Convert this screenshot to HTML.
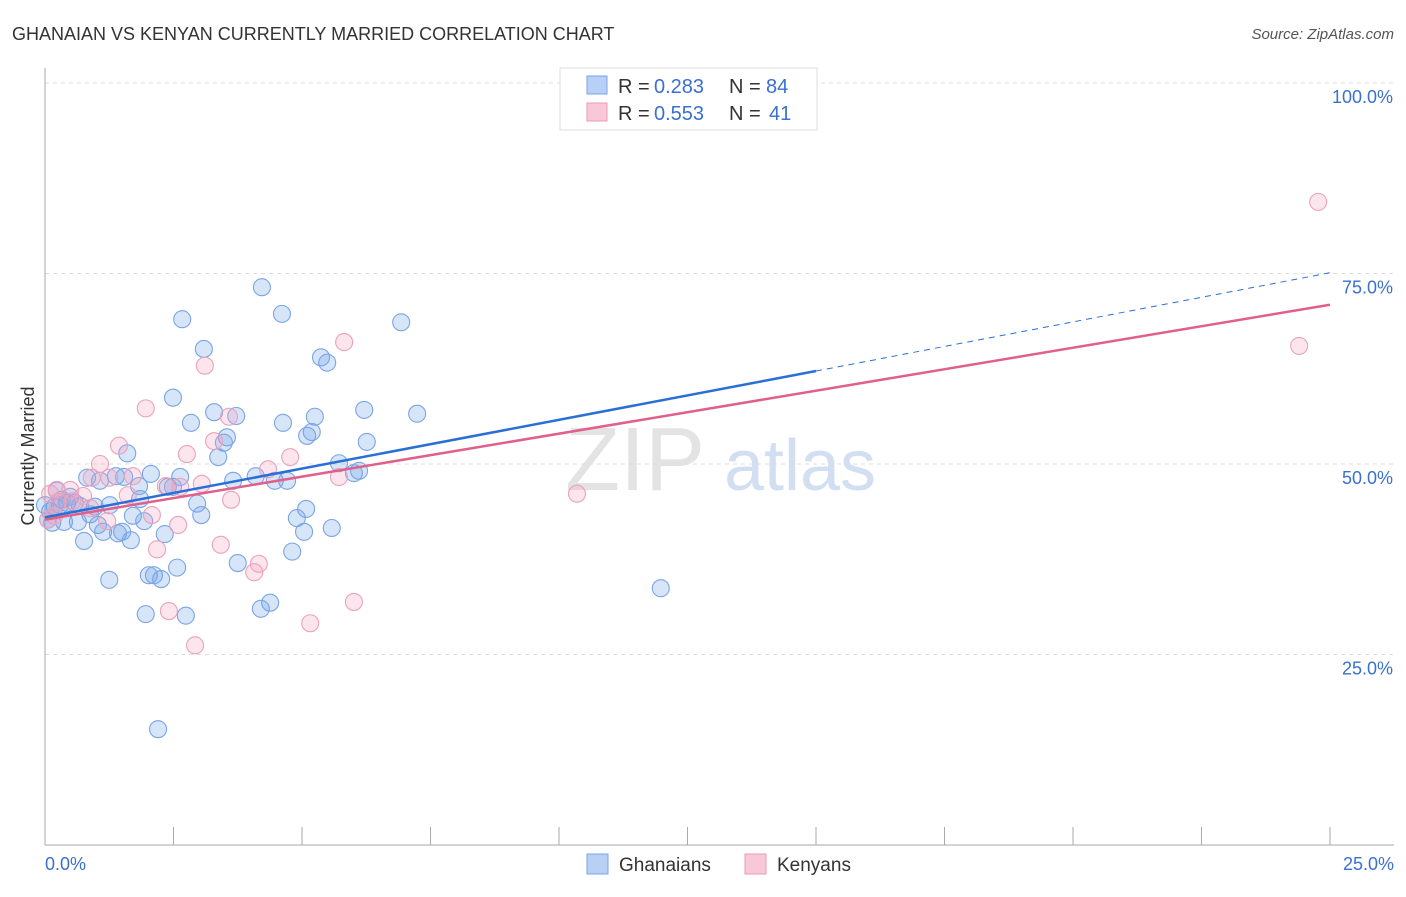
<!DOCTYPE html>
<html><head><meta charset="utf-8"><style>
body{margin:0;background:#fff;font-family:"Liberation Sans",sans-serif;}
svg text{font-family:"Liberation Sans",sans-serif;}
</style></head><body>
<svg id="chart" width="1406" height="892" xmlns="http://www.w3.org/2000/svg">
<text x="12" y="40" font-size="18" fill="#333">GHANAIAN VS KENYAN CURRENTLY MARRIED CORRELATION CHART</text>
<text x="1394" y="39" font-size="15" fill="#555" text-anchor="end" font-style="italic">Source: ZipAtlas.com</text>
<text x="34" y="456" font-size="18" fill="#333" text-anchor="middle" transform="rotate(-90 34 456)">Currently Married</text>
<g><text x="635" y="490" font-size="90" fill="#ddd" text-anchor="middle" font-family="Liberation Serif" opacity="0.8">ZIP</text><text x="800" y="490" font-size="72" fill="#c8d8f0" text-anchor="middle" opacity="0.8">atlas</text></g>
<g id="grid"></g><g id="axes"></g><g id="pts"></g><g id="lines"></g>
<g>
<rect x="560" y="68" width="257" height="62" fill="#fff" stroke="#ddd"/>
<rect x="587" y="76" width="20" height="18" fill="#b8d0f5" stroke="#7aa5e5"/>
<text x="618" y="93" font-size="20" fill="#333">R =</text><text x="654" y="93" font-size="20" fill="#3a70d0">0.283</text>
<text x="729" y="93" font-size="20" fill="#333">N =</text><text x="766" y="93" font-size="20" fill="#3a70d0">84</text>
<rect x="587" y="103" width="20" height="18" fill="#f9c8d8" stroke="#e99ab4"/>
<text x="618" y="120" font-size="20" fill="#333">R =</text><text x="654" y="120" font-size="20" fill="#3a70d0">0.553</text>
<text x="729" y="120" font-size="20" fill="#333">N =</text><text x="769" y="120" font-size="20" fill="#3a70d0">41</text>
</g>
<g>
<rect x="587" y="854" width="21" height="20" fill="#b8d0f5" stroke="#7aa5e5"/>
<text x="619" y="871" font-size="19" fill="#333">Ghanaians</text>
<rect x="745" y="854" width="21" height="20" fill="#f9c8d8" stroke="#e99ab4"/>
<text x="777" y="871" font-size="19" fill="#333">Kenyans</text>
</g>
</svg>
<script>
const blueX=[4.22,2.67,4.61,6.93,3.09,5.37,5.49,2.49,3.29,3.72,5.25,6.21,7.24,2.84,4.63,3.54,5.19,5.10,6.26,3.48,1.60,3.37,2.06,2.63,1.38,1.54,1.07,0.82,4.10,3.66,4.47,4.71,5.72,6.11,6.01,1.83,2.39,2.49,0.23,0.43,0.58,0.68,0.19,1.26,0.97,1.85,2.96,0.10,0.88,1.71,3.04,5.08,4.90,0.64,0.37,1.03,1.93,0.14,1.13,1.42,1.50,2.33,5.04,5.58,1.67,0.76,3.75,4.81,2.57,2.12,2.02,2.26,1.25,4.38,4.20,1.96,2.74,11.98,2.20,0.06,0.0,0.29,0.49,0.33];
const blueY=[73.2,69.0,69.7,68.6,65.1,64.0,63.3,58.7,56.8,56.3,56.2,57.1,56.6,55.4,55.4,53.5,54.2,53.7,52.9,52.8,51.4,50.9,48.7,48.3,48.4,48.3,47.8,48.2,48.4,47.8,47.8,47.8,50.1,49.1,48.8,47.1,47.0,47.0,46.5,44.9,44.9,44.5,44.4,44.6,44.4,45.4,44.8,43.8,43.4,43.2,43.3,44.1,42.9,42.4,42.4,42.0,42.5,42.3,41.1,40.9,41.1,40.8,41.1,41.6,40.0,39.9,37.0,38.5,36.4,35.4,35.4,34.9,34.8,31.8,31.0,30.3,30.1,33.7,15.2,42.7,44.6,44.6,45.7,45.3];
const pinkX=[24.77,24.40,5.82,3.11,1.96,3.58,3.29,1.44,2.76,4.77,1.07,4.34,0.91,1.71,1.25,3.05,3.62,1.61,2.35,2.63,5.72,10.35,0.23,0.49,0.10,0.74,0.25,0.53,0.88,2.08,1.21,2.59,3.42,2.18,4.16,4.07,6.01,2.41,5.16,2.92,0.06,0.18];
const pinkY=[84.4,65.5,66.0,62.9,57.3,56.2,53.0,52.4,51.3,50.9,50.0,49.3,48.2,48.4,48.2,47.4,45.3,45.9,47.1,47.0,48.3,46.1,46.6,46.6,46.1,45.8,45.0,45.1,44.2,43.3,42.5,42.0,39.4,38.8,36.9,35.8,31.9,30.7,29.1,26.2,42.7,43.2];
const blueLine=[43.0,62.2,75.1]; // at x=0, 15 (solid end), 25
const pinkLine=[42.7,70.9]; // at x=0, 25
const yTicks=[25,50,75,100];
const yTickLabels=["25.0%","50.0%","75.0%","100.0%"];
const xTicks=[0,2.5,5,7.5,10,12.5,15,17.5,20,22.5,25];
const NS="http://www.w3.org/2000/svg";
const sx=v=>45+v*51.4, sy=v=>845-v*7.62;
function mk(p,t,a){const e=document.createElementNS(NS,t);for(const k in a)e.setAttribute(k,a[k]);p.appendChild(e);return e;}
const grid=document.getElementById('grid'),axes=document.getElementById('axes'),pts=document.getElementById('pts'),lines=document.getElementById('lines');
yTicks.forEach((t,i)=>{
 const l=mk(grid,'line',{x1:45,x2:1394,y1:sy(t),y2:sy(t),stroke:'#ddd','stroke-dasharray':'4,4'});
 
 
 const tx=mk(axes,'text',{x:1393,y:sy(t)+20,'font-size':18,fill:'#3a70d0','text-anchor':'end'});
 tx.textContent=yTickLabels[i];
 
 
});
const ya=mk(axes,'line',{x1:45,x2:45,y1:68,y2:845,stroke:'#aaa'});


const xa=mk(axes,'line',{x1:45,x2:1394,y1:845,y2:845,stroke:'#aaa'});


xTicks.forEach(t=>{
 const l=mk(axes,'line',{x1:sx(t),x2:sx(t),y1:827,y2:845,stroke:'#aaa'});
 
 
});
const x0=mk(axes,'text',{x:45,y:870,'font-size':18,fill:'#3a70d0'});x0.textContent='0.0%';


const x1=mk(axes,'text',{x:1394,y:870,'font-size':18,fill:'#3a70d0','text-anchor':'end'});x1.textContent='25.0%';


blueX.forEach((v,i)=>{
 const c=mk(pts,'circle',{cx:sx(v),cy:sy(blueY[i]),r:8.5,fill:'rgba(110,160,235,0.28)',stroke:'#7aa5e5','stroke-width':1.1});
 
 
});
pinkX.forEach((v,i)=>{
 const c=mk(pts,'circle',{cx:sx(v),cy:sy(pinkY[i]),r:8.5,fill:'rgba(245,160,190,0.28)',stroke:'#eaa2bb','stroke-width':1.1});
 
 
});
const bl=mk(lines,'line',{x1:sx(0),y1:sy(blueLine[0]),x2:sx(15),y2:sy(blueLine[1]),stroke:'#2a6fd6','stroke-width':2.5});


const bd=mk(lines,'line',{x1:sx(15),y1:sy(blueLine[1]),x2:sx(25),y2:sy(blueLine[2]),stroke:'#2a6fd6','stroke-width':1,'stroke-dasharray':'6,5'});


const pl=mk(lines,'line',{x1:sx(0),y1:sy(pinkLine[0]),x2:sx(25),y2:sy(pinkLine[1]),stroke:'#e0608a','stroke-width':2.5});


</script>
</body></html>
